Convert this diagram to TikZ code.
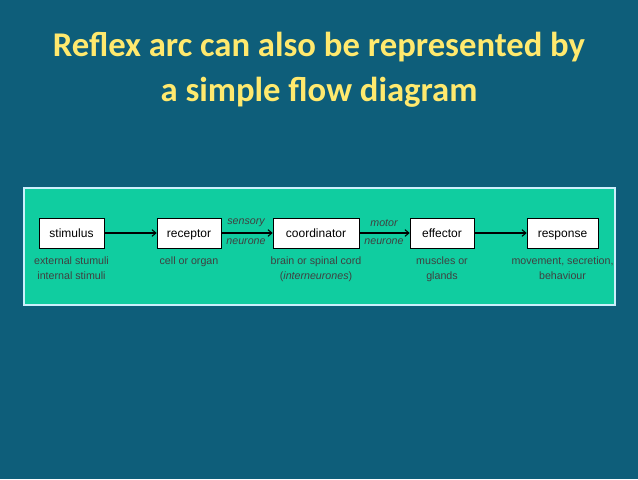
\documentclass[tikz,border=0pt]{standalone}
\usepackage{fontspec}
\usetikzlibrary{arrows.meta}
\setmainfont{Liberation Sans}
\newfontfamily\titlefont{Carlito}
\begin{document}
\begin{tikzpicture}[x=0.75pt,y=-0.75pt,
  blk/.style={draw=black,fill=white,minimum width=#1*0.75pt,minimum height=22.5pt,inner sep=0pt,text height=1.5ex,text depth=0.3ex,font=\fontsize{9}{10}\selectfont,anchor=center},
  sub/.style={font=\fontsize{8}{11}\selectfont,text=black!75,align=center,anchor=north},
  lab/.style={font=\fontsize{8}{10}\selectfont\itshape,text=black!75},
  arr/.style={-{Straight Barb[length=3pt,width=5pt]},thick}]
\useasboundingbox (0,0) rectangle (638,479);
\fill[fill={rgb,255:red,14;green,94;blue,122}] (0,0) rectangle (638,479);
\node[font=\titlefont\bfseries\fontsize{26}{34}\selectfont,text={rgb,255:red,255;green,233;blue,110},align=center] (title) at (319,70) {Reflex arc can also be represented by\\a simple flow diagram};
\draw[draw=white!80!cyan,line width=1.2pt,fill={rgb,255:red,16;green,205;blue,160}] (24,188) rectangle (615,305);
\node[blk=65] (s) at (71.5,233) {stimulus};
\node[blk=64] (r) at (189,233) {receptor};
\node[blk=86] (c) at (316,233) {coordinator};
\node[blk=64] (e) at (442,233) {effector};
\node[blk=71] (p) at (562.5,233) {response};
\draw[arr] (s) -- (r);
\draw[arr] (r) -- (c);
\draw[arr] (c) -- (e);
\draw[arr] (e) -- (p);
\node[lab] (l1) at (246,223) {sensory};
\node[lab] (l2) at (246,242) {neurone};
\node[lab] (l3) at (384,223) {motor};
\node[lab] (l4) at (384,242) {neurone};
\node[sub] (d1) at (71.5,252) {external stumuli\\internal stimuli};
\node[sub] (d2) at (189,252) {cell or organ};
\node[sub] (d3) at (316,252) {brain or spinal cord\\(\textit{interneurones})};
\node[sub] (d4) at (442,252) {muscles or\\glands};
\node[sub] (d5) at (562.5,252) {movement, secretion,\\behaviour};
\end{tikzpicture}
\end{document}
